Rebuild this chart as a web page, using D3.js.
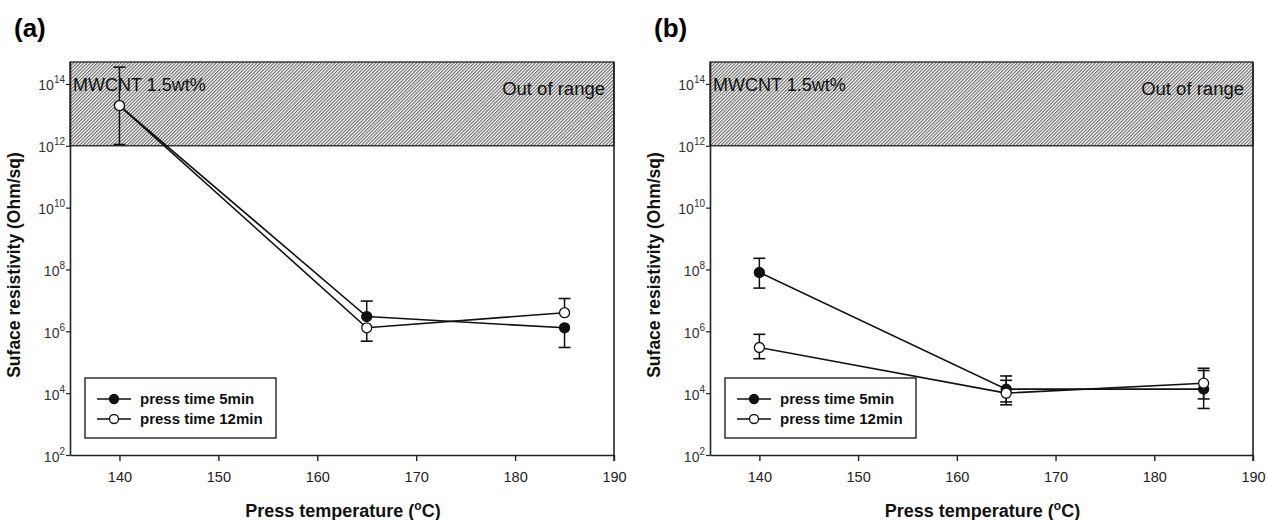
<!DOCTYPE html>
<html>
<head>
<meta charset="utf-8">
<script src="https://cdn.jsdelivr.net/npm/d3@7"></script>
<style>
  body { margin: 0; background: #fff; }
  svg { font-family: Arial, "Liberation Sans", sans-serif; }
</style>
</head>
<body>
<svg id="canvas" width="1268" height="520"></svg>
<script>
// data
let temps = [140, 165, 185]
let xTicks = [140, 150, 160, 170, 180, 190]
let yTickExps = [2, 4, 6, 8, 10, 12, 14]

// panel (a)
let a5 = [2e13, 3e6, 1.3e6]
let a12 = [2e13, 1.3e6, 4e6]
let aErrHi = [3.5e14, 9.5e6, 1.15e7]   // upper caps
let aErrLo = [1.1e12, 4.8e5, 3.0e5]    // lower caps

// panel (b)
let b5 = [8e7, 1.35e4, 1.35e4]
let b12 = [3e5, 1.0e4, 2.1e4]
let b5Hi = [2.3e8, 3.6e4, 5.4e4]
let b5Lo = [2.5e7, 4.2e3, 3.2e3]
let b12Hi = [8e5, 2.6e4, 6.4e4]
let b12Lo = [1.3e5, 5.2e3, 6.5e3]

let series = [
  { id: 'a', x0: 70, x1: 614,
    lines: [
      { name: 'press time 5min', vals: a5, hi: [null, aErrHi[1], null], lo: [null, null, aErrLo[2]], filled: true },
      { name: 'press time 12min', vals: a12, hi: [aErrHi[0], null, aErrHi[2]], lo: [aErrLo[0], aErrLo[1], null], filled: false }
    ] },
  { id: 'b', x0: 710, x1: 1253,
    lines: [
      { name: 'press time 5min', vals: b5, hi: b5Hi, lo: b5Lo, filled: true },
      { name: 'press time 12min', vals: b12, hi: b12Hi, lo: b12Lo, filled: false }
    ] }
]

let svg = d3.select('#canvas')
let plotTop = 62, plotBottom = 455

let defs = svg.append('defs')
let pat = defs.append('pattern')
  .attr('id', 'hatch')
  .attr('patternUnits', 'userSpaceOnUse')
  .attr('width', 2.4)
  .attr('height', 8)
  .attr('patternTransform', 'rotate(45)')
pat.append('rect').attr('width', 2.4).attr('height', 8).attr('fill', '#fff')
pat.append('line').attr('x1', 0.6).attr('x2', 0.6).attr('y1', 0).attr('y2', 8)
  .attr('stroke', '#555').attr('stroke-width', 1)

series.forEach((p) => {
  let x = d3.scaleLinear().domain([135, 190]).range([p.x0, p.x1])
  let y = d3.scaleLog().domain([1e2, Math.pow(10, 14.71)]).range([plotBottom, plotTop])

  let g = svg.append('g')

  // panel letter
  g.append('text')
    .attr('x', p.x0 - 56).attr('y', 37)
    .attr('font-size', 26).attr('font-weight', 'bold')
    .text('(' + p.id + ')')

  // out of range band
  g.append('rect')
    .attr('x', p.x0).attr('y', plotTop)
    .attr('width', p.x1 - p.x0).attr('height', y(1e12) - plotTop)
    .attr('fill', 'url(#hatch)')
    .attr('stroke', '#111').attr('stroke-width', 1.2)

  g.append('text')
    .attr('x', p.x0 + 3).attr('y', y(1e14) + 7)
    .attr('font-size', 18).attr('fill', '#111')
    .text('MWCNT 1.5wt%')
  g.append('text')
    .attr('x', p.x1 - 9).attr('y', y(1e14) + 11)
    .attr('text-anchor', 'end')
    .attr('font-size', 18.5).attr('fill', '#111')
    .text('Out of range')

  // axes
  let xAxis = d3.axisBottom(x).tickValues(xTicks).tickSize(6).tickSizeOuter(0)
  let xg = g.append('g').attr('transform', 'translate(0,' + plotBottom + ')').call(xAxis)
  xg.select('.domain').attr('stroke', '#222').attr('stroke-width', 1.6)
  xg.selectAll('.tick line').attr('stroke', '#222').attr('stroke-width', 1.4)
  xg.selectAll('.tick text').attr('font-size', 14.5).attr('fill', '#222').attr('dy', '1.25em')
    .attr('font-family', 'Arial, "Liberation Sans", sans-serif')

  let yAxis = d3.axisLeft(y).tickValues(yTickExps.map((e) => Math.pow(10, e))).tickSize(4).tickSizeOuter(0).tickFormat('')
  let yg = g.append('g').attr('transform', 'translate(' + p.x0 + ',0)').call(yAxis)
  yg.select('.domain').attr('stroke', '#222').attr('stroke-width', 1.6)
  yg.selectAll('.tick line').attr('stroke', '#222').attr('stroke-width', 1.2)
  yg.selectAll('.tick').each(function (d) {
    let t = d3.select(this).append('text')
      .attr('x', -5).attr('y', 6)
      .attr('text-anchor', 'end')
      .attr('font-size', 14).attr('fill', '#333')
      .attr('font-family', 'Arial, "Liberation Sans", sans-serif')
    t.append('tspan').text('10')
    t.append('tspan').attr('dy', -7).attr('font-size', 10).text(Math.round(Math.log10(d)))
  })

  // right border
  g.append('line')
    .attr('x1', p.x1).attr('x2', p.x1).attr('y1', plotTop).attr('y2', plotBottom + 6)
    .attr('stroke', '#222').attr('stroke-width', 1.6)

  // axis titles
  g.append('text')
    .attr('x', (p.x0 + p.x1) / 2 + 1).attr('y', 517)
    .attr('text-anchor', 'middle')
    .attr('font-size', 18).attr('font-weight', 'bold').attr('fill', '#111')
    .html('Press temperature (<tspan dy="-7" font-size="12">o</tspan><tspan dy="7">C)</tspan>')
  g.append('text')
    .attr('transform', 'translate(' + (p.x0 - 50) + ',265) rotate(-90)')
    .attr('text-anchor', 'middle')
    .attr('font-size', 17.5).attr('font-weight', 'bold').attr('fill', '#111')
    .text('Suface resistivity (Ohm/sq)')

  let line = d3.line().x((d, i) => x(temps[i])).y((d) => y(d))

  p.lines.forEach((s) => {
    g.append('path')
      .attr('d', line(s.vals))
      .attr('fill', 'none').attr('stroke', '#111').attr('stroke-width', 1.6)
  })

  // error bars
  p.lines.forEach((s) => {
    temps.forEach((t, i) => {
      let cx = x(t)
      let ends = []
      if (s.hi[i] != null) ends.push(s.hi[i])
      if (s.lo[i] != null) ends.push(s.lo[i])
      ends.forEach((e) => {
        g.append('line')
          .attr('x1', cx).attr('x2', cx).attr('y1', y(s.vals[i])).attr('y2', y(e))
          .attr('stroke', '#111').attr('stroke-width', 1.5)
        g.append('line')
          .attr('x1', cx - 6).attr('x2', cx + 6).attr('y1', y(e)).attr('y2', y(e))
          .attr('stroke', '#111').attr('stroke-width', 1.6)
      })
    })
  })

  // markers
  p.lines.forEach((s) => {
    g.selectAll(null)
      .data(s.vals)
      .enter()
      .append('circle')
      .attr('cx', (d, i) => x(temps[i]))
      .attr('cy', (d) => y(d))
      .attr('r', 5)
      .attr('fill', s.filled ? '#111' : '#fff')
      .attr('stroke', '#111').attr('stroke-width', 1.3)
  })

  // legend
  let lx = p.x0 + 15, ly = 378
  g.append('rect')
    .attr('x', lx).attr('y', ly).attr('width', 191).attr('height', 60)
    .attr('fill', '#fff').attr('stroke', '#111').attr('stroke-width', 1.3)
  p.lines.forEach((s, i) => {
    let ry = ly + 21 + i * 20
    g.append('line')
      .attr('x1', lx + 12).attr('x2', lx + 46).attr('y1', ry).attr('y2', ry)
      .attr('stroke', '#111').attr('stroke-width', 1.5)
    g.append('circle')
      .attr('cx', lx + 29).attr('cy', ry).attr('r', 4.5)
      .attr('fill', s.filled ? '#111' : '#fff')
      .attr('stroke', '#111').attr('stroke-width', 1.3)
    g.append('text')
      .attr('x', lx + 55).attr('y', ry + 5)
      .attr('font-size', 15).attr('font-weight', 'bold').attr('fill', '#111')
      .text(s.name)
  })
})
</script>
</body>
</html>
